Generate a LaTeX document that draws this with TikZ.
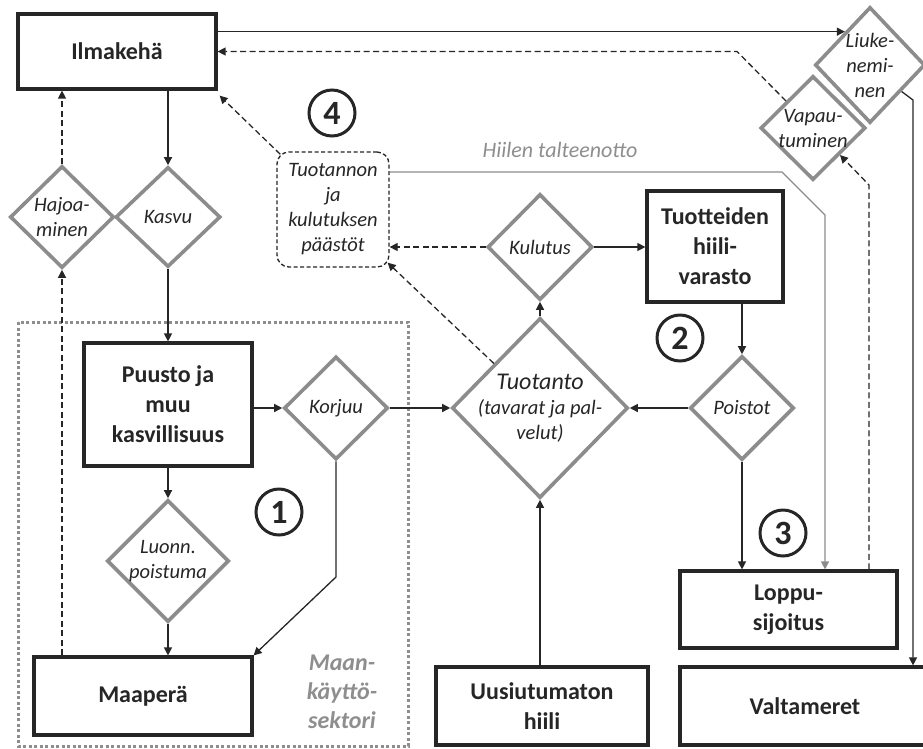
\documentclass[tikz,border=0pt]{standalone}
\usepackage{fontspec}
\setmainfont{Carlito}
\usetikzlibrary{shapes.geometric,arrows.meta,calc}
\definecolor{dgray}{HTML}{8C8C8C}
\definecolor{txt}{HTML}{262626}
\definecolor{ltxt}{HTML}{8E8E8E}
\begin{document}
\begin{tikzpicture}[x=1pt,y=-1pt,
 box/.style={draw=txt, line width=3.2pt, fill=white, rectangle, inner sep=0pt, align=center, font=\fontsize{24}{30}\selectfont\bfseries, text=txt},
 dia/.style={draw=dgray, line width=3.6pt, diamond, inner sep=0pt, fill=white},
 dtext/.style={font=\fontsize{20.5}{25}\selectfont\itshape, text=txt, align=center, inner sep=0pt},
 arr/.style={line width=1.3pt, draw=txt, -{Triangle[length=8pt,width=8pt]}},
 darr/.style={arr, dash pattern=on 6pt off 3.5pt},
 garr/.style={line width=1.3pt, draw=dgray, -{Triangle[length=8pt,width=8pt]}},
 num/.style={circle, draw=txt, line width=3pt, minimum size=46pt, inner sep=0pt, font=\fontsize{34}{34}\selectfont\bfseries, text=txt}
]
\useasboundingbox (0,0) rectangle (923,748);
\fill[white] (0,0) rectangle (923,748);

% land-use sector frame
\draw[draw=ltxt, line width=3pt, dash pattern=on 3pt off 2.5pt] (18,322) rectangle (408,746);
\node[text=ltxt, font=\fontsize{24}{29}\selectfont\bfseries\itshape, align=center] (maan) at (342,692) {Maan-\\käyttö-\\sektori};

% boxes
\node[box, minimum width=198pt, minimum height=75pt] (ilma) at (117,51.5) {Ilmakehä};
\node[box, minimum width=168pt, minimum height=123pt] (puusto) at (168,404.5) {Puusto ja\\muu\\kasvillisuus};
\node[box, minimum width=218pt, minimum height=78pt] (maapera) at (143,696) {Maaperä};
\node[box, minimum width=136pt, minimum height=111pt] (tuotteiden) at (715,246.5) {Tuotteiden\\hiili-\\varasto};
\node[box, minimum width=217pt, minimum height=77pt] (loppu) at (788.5,609.5) {Loppu-\\sijoitus};
\node[box, minimum width=250pt, minimum height=78pt] (valta) at (805,706) {Valtameret};
\node[box, minimum width=212pt, minimum height=78pt] (uusi) at (542,706) {Uusiutumaton\\hiili};

% emissions box
\node[draw=txt, line width=1.3pt, dash pattern=on 4pt off 2.5pt, rounded corners=12pt, minimum width=112pt, minimum height=115pt, dtext] (tuotannon) at (333,209.5) {Tuotannon\\ja\\kulutuksen\\päästöt};

% diamonds
\node[dia, minimum width=104pt, minimum height=102pt, label={[dtext]center:{Hajoa-\\minen}}] (hajo) at (62,217) {};
\node[dia, minimum width=105pt, minimum height=100pt, label={[dtext]center:{Kasvu}}] (kasvu) at (168,217) {};
\node[dia, minimum width=104pt, minimum height=103pt, label={[dtext]center:{Korjuu}}] (korjuu) at (336,408) {};
\node[dia, minimum width=122pt, minimum height=122pt, label={[dtext]center:{Luonn.\\poistuma}}] (luonn) at (168,561) {};
\node[dia, minimum width=176pt, minimum height=180pt, label={[dtext]center:{{\fontsize{24}{28}\selectfont Tuotanto}\\(tavarat ja pal-\\velut)}}] (tuotanto) at (540,408) {};
\node[dia, minimum width=105pt, minimum height=106pt, label={[dtext]center:{Kulutus}}] (kulutus) at (540,247) {};
\node[dia, minimum width=104pt, minimum height=104pt, label={[dtext]center:{Poistot}}] (poistot) at (742,408) {};
\node[dia, minimum width=110pt, minimum height=116pt, label={[dtext]center:{Liuke-\\nemi-\\nen}}] (liuk) at (870,65) {};
\node[dia, minimum width=105pt, minimum height=104pt, label={[dtext]center:{Vapau-\\tuminen}}] (vapa) at (813,128) {};

% numbers
\node[num] (c1) at (279,512) {1};
\node[num] (c2) at (680,338) {2};
\node[num] (c3) at (783,533) {3};
\node[num] (c4) at (332,113) {4};

\node[text=ltxt, font=\fontsize{22}{26}\selectfont\itshape] (hiilen) at (560,150) {Hiilen talteenotto};

% bend points
\coordinate (vbend) at (737,51.5);
\coordinate (lbend) at (869,185);
\coordinate (lcorner) at (913,100);
\coordinate (t1) at (782,172);
\coordinate (t2) at (825,215);
\coordinate (kbend) at (336,577);

% connectors
\draw[arr] (ilma.east |- liuk.127) -- (liuk.127);
\draw[darr] (vapa.135) -- (vbend) -- (ilma.east);
\draw[darr] (loppu.north -| lbend) -- (lbend) -- (vapa.-45);
\draw[arr] (liuk.-40) -- (lcorner) -- (lcorner |- valta.north);
\draw[garr] (tuotannon.east |- t1) -- (t1) -- (t2) -- (t2 |- loppu.north);

\draw[arr] (ilma.south -| kasvu.north) -- (kasvu.north);
\draw[darr] (hajo.north) -- (hajo.north |- ilma.south);
\draw[darr] (maapera.north -| hajo.south) -- (hajo.south);
\draw[arr] (kasvu.south) -- (puusto.north);
\draw[arr] (puusto.east |- korjuu.west) -- (korjuu.west);
\draw[arr] (korjuu.east) -- (tuotanto.west);
\draw[arr] (korjuu.south) -- (kbend) -- (maapera.north east);
\draw[arr] (puusto.south) -- (luonn.north);
\draw[arr] (luonn.south) -- (luonn.south |- maapera.north);

\draw[arr] (tuotanto.north) -- (kulutus.south);
\draw[arr] (kulutus.east) -- (kulutus.east -| tuotteiden.west);
\draw[darr] (kulutus.west) -- (kulutus.west -| tuotannon.east);
\draw[darr] (tuotanto.136) -- ([xshift=-2pt,yshift=5pt]tuotannon.south east);
\draw[darr] ([xshift=4pt,yshift=-3pt]tuotannon.north west) -- ([xshift=2pt,yshift=-5pt]ilma.south east);
\draw[arr] (tuotteiden.south -| poistot.north) -- (poistot.north);
\draw[arr] (poistot.west) -- (tuotanto.east);
\draw[arr] (poistot.south) -- (poistot.south |- loppu.north);
\draw[arr] (uusi.north -| tuotanto.south) -- (tuotanto.south);
\end{tikzpicture}
\end{document}
